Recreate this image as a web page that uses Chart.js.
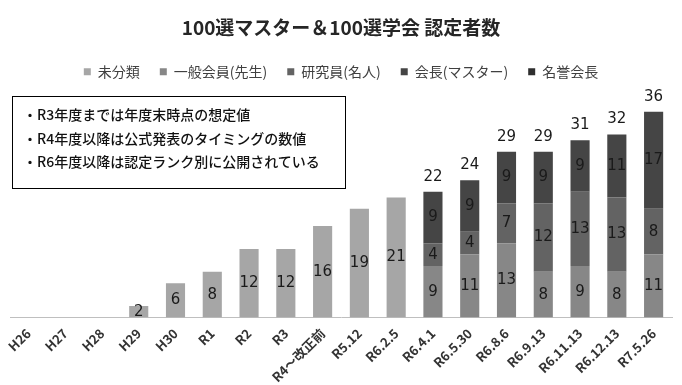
<!DOCTYPE html>
<html><head><meta charset="utf-8">
<script src="https://cdn.jsdelivr.net/npm/chart.js@4/dist/chart.umd.min.js"></script>
<style>
html,body{margin:0;padding:0;background:#fff;}
#wrap{position:relative;width:682px;height:385px;}
#note{position:absolute;left:12px;top:96px;width:334px;height:93px;border:1px solid #000;box-sizing:border-box;
 font-family:'Noto Sans CJK JP',sans-serif;font-size:14px;font-weight:500;color:#111;padding:6px 0 0 10px;line-height:23.5px;}
</style></head>
<body><div id="wrap"><canvas id="c" width="682" height="385"></canvas>
<div id="note">・R3年度までは年度末時点の想定値<br>・R4年度以降は公式発表のタイミングの数値<br>・R6年度以降は認定ランク別に公開されている</div></div>
<script>
const categories = ['H26','H27','H28','H29','H30','R1','R2','R3','R4～改正前','R5.12','R6.2.5','R6.4.1','R6.5.30','R6.8.6','R6.9.13','R6.11.13','R6.12.13','R7.5.26'];
const seriesNames = ['未分類','一般会員(先生)','研究員(名人)','会長(マスター)','名誉会長'];
const unclassified = [0,0,0,2,6,8,12,12,16,19,21,0,0,0,0,0,0,0];
const general      = [0,0,0,0,0,0,0,0,0,0,0,9,11,13,8,9,8,11];
const researcher   = [0,0,0,0,0,0,0,0,0,0,0,4,4,7,12,13,13,8];
const president    = [0,0,0,0,0,0,0,0,0,0,0,9,9,9,9,9,11,17];
const honorary     = [0,0,0,0,0,0,0,0,0,0,0,0,0,0,0,0,0,0];
const colors = ['#a6a6a6','#878787','#636363','#454545','#2e2e2e'];
const seriesData = [unclassified, general, researcher, president, honorary];

const labelPlugin = {
  id:'labels',
  afterDatasetsDraw(chart){
    const ctx = chart.ctx;
    ctx.save();
    ctx.textAlign='center'; ctx.textBaseline='middle';
    ctx.fillStyle='#1a1a1a';
    ctx.font='15px "DejaVu Sans", sans-serif';
    chart.data.datasets.forEach((ds,di)=>{
      const meta = chart.getDatasetMeta(di);
      meta.data.forEach((bar,i)=>{
        const v = ds.data[i];
        if(v>0){ ctx.fillText(String(v), bar.x, (bar.y+bar.base)/2); }
      });
    });
    categories.forEach((c,i)=>{
      let tot=0; for(let d=1; d<seriesData.length; d++) tot+=seriesData[d][i];
      if(tot>0){
        const yScale = chart.scales.y;
        const y = yScale.getPixelForValue(tot + seriesData[0][i]);
        const x = chart.getDatasetMeta(0).data[i].x;
        ctx.fillText(String(tot), x, y-15);
      }
    });
    ctx.restore();
  }
};

new Chart(document.getElementById('c'), {
  type:'bar',
  data:{
    labels:categories,
    datasets: seriesNames.map((n,i)=>({label:n, data:seriesData[i], backgroundColor:colors[i], borderWidth:0, barPercentage:0.65, categoryPercentage:0.8}))
  },
  options:{
    responsive:false, animation:false,
    layout:{padding:{left:10,right:10,top:6,bottom:0}},
    plugins:{
      title:{display:true,text:'100選マスター＆100選学会 認定者数',color:'#262626',
        font:{family:'"Noto Sans CJK JP", sans-serif',size:19,weight:'bold'},padding:{top:10,bottom:6}},
      legend:{display:true,position:'top',
        labels:{boxWidth:7,boxHeight:7,padding:20,color:'#404040',font:{family:'"Noto Sans CJK JP", sans-serif',size:14}}},
      tooltip:{enabled:false}
    },
    scales:{
      x:{stacked:true,grid:{display:false},border:{display:true,color:'#bfbfbf',width:1},
        ticks:{color:'#333',padding:0,maxRotation:45,minRotation:45,autoSkip:false,font:{family:'"Noto Sans CJK JP", sans-serif',size:13,weight:'600'}}},
      y:{stacked:true,display:false,min:0,max:40}
    }
  },
  plugins:[labelPlugin]
});
</script></body></html>
